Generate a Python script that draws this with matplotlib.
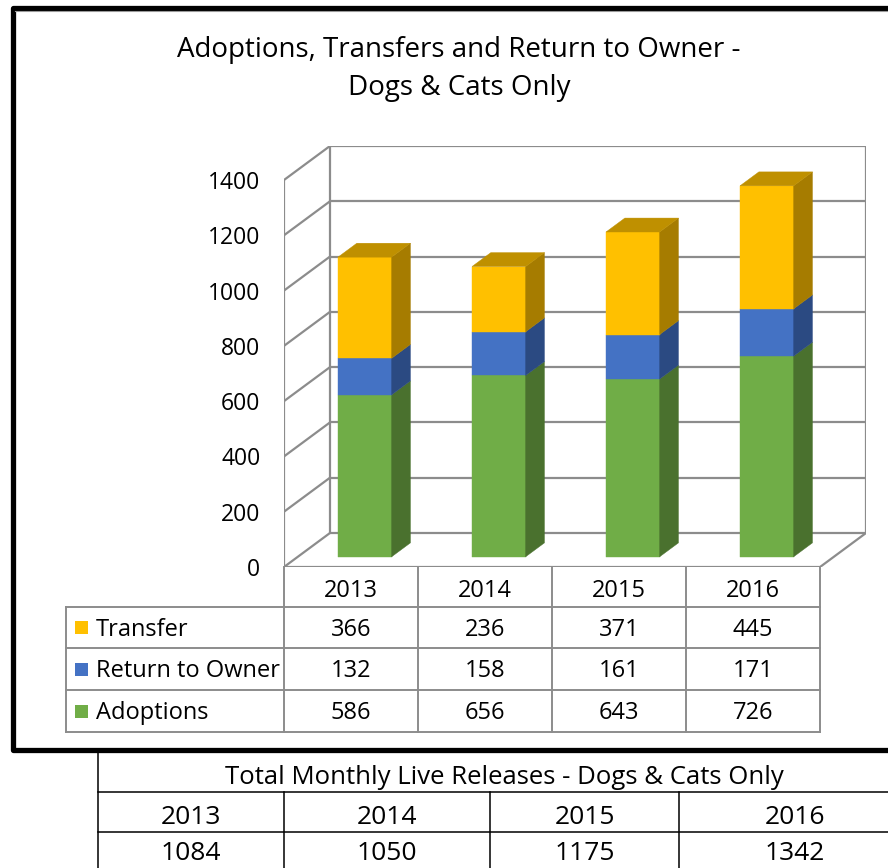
import matplotlib.pyplot as plt
from matplotlib.patches import Polygon, Rectangle

# data
years = ['2013', '2014', '2015', '2016']
transfer = [366, 236, 371, 445]
return_owner = [132, 158, 161, 171]
adoptions = [586, 656, 643, 726]
totals = [1084, 1050, 1175, 1342]
y_ticks = [0, 200, 400, 600, 800, 1000, 1200, 1400]

# stacked bottom -> top: (name, values, front, side, top)
stack = [
    ('Adoptions', adoptions, '#70AD47', '#4A712E', '#5A8C39'),
    ('Return to Owner', return_owner, '#4472C4', '#2B4A82', '#36599B'),
    ('Transfer', transfer, '#FFC000', '#A67C00', '#BF9000'),
]

plt.rcParams['font.family'] = ['Open Sans', 'DejaVu Sans']

W, H = 888, 868
fig = plt.figure(figsize=(W / 100, H / 100), dpi=100)

# layout layer in pixel coordinates (y down)
lay = fig.add_axes([0, 0, 1, 1])
lay.set_xlim(0, W)
lay.set_ylim(H, 0)
lay.axis('off')

# pseudo 3D chart area
DX = 0.343   # depth offset in category units
DY = 123     # depth offset in value units
ymax = y_ticks[-1]
ax = fig.add_axes([284 / W, (H - 567) / H, 582 / W, 421 / H])
ax.set_xlim(0, len(years) + DX)
ax.set_ylim(0, ymax + DY)
ax.patch.set_visible(False)
for s in ax.spines.values():
    s.set_visible(False)
ax.set_xticks([])
ax.set_yticks(y_ticks)
ax.set_yticklabels([str(t) for t in y_ticks], fontsize=16.5)
ax.tick_params(axis='y', length=0, pad=17)


def proj(x, v, d):
    return (x + d * DX, v + d * DY)


grid_kw = dict(color='#8C8C8C', lw=1.6, zorder=1, solid_capstyle='round')
n = len(years)
# back wall
for v in y_ticks:
    p0, p1 = proj(0, v, 1), proj(n, v, 1)
    ax.plot([p0[0], p1[0]], [p0[1], p1[1]], **grid_kw)
    # left wall
    q0, q1 = proj(0, v, 0), proj(0, v, 1)
    ax.plot([q0[0], q1[0]], [q0[1], q1[1]], **grid_kw)
for x in (0, n):
    p0, p1 = proj(x, 0, 1), proj(x, ymax, 1)
    ax.plot([p0[0], p1[0]], [p0[1], p1[1]], **grid_kw)
p0, p1 = proj(0, 0, 0), proj(0, ymax, 0)
ax.plot([p0[0], p1[0]], [p0[1], p1[1]], **grid_kw)
# floor
p0, p1, p2 = proj(0, 0, 0), proj(n, 0, 0), proj(n, 0, 1)
ax.plot([p0[0], p1[0], p2[0]], [p0[1], p1[1], p2[1]], **grid_kw)

# bars
d0, d1 = 0.30, 0.71
for i in range(n):
    x0, x1 = i + 0.3, i + 0.7
    base = 0
    for k, (name, vals, fc, sc, tc) in enumerate(stack):
        top = base + vals[i]
        front = [proj(x0, base, d0), proj(x1, base, d0), proj(x1, top, d0), proj(x0, top, d0)]
        side = [proj(x1, base, d0), proj(x1, base, d1), proj(x1, top, d1), proj(x1, top, d0)]
        ax.add_patch(Polygon(front, closed=True, fc=fc, ec=fc, lw=0.3, zorder=3))
        ax.add_patch(Polygon(side, closed=True, fc=sc, ec=sc, lw=0.3, zorder=3))
        if k == len(stack) - 1:
            lid = [proj(x0, top, d0), proj(x1, top, d0), proj(x1, top, d1), proj(x0, top, d1)]
            ax.add_patch(Polygon(lid, closed=True, fc=tc, ec=tc, lw=0.3, zorder=3))
        base = top

# title
lay.text(459, 69, 'Adoptions, Transfers and Return to Owner -\nDogs & Cats Only',
         ha='center', va='center', fontsize=20, linespacing=1.45)

# data table under the chart
tcol = '#8C8C8C'
cols = [284, 418, 552, 686, 820]
rows = [567, 607, 648, 690, 732]
for x in cols:
    lay.plot([x, x], [rows[0], rows[-1]], color=tcol, lw=1.4)
for y in rows[1:]:
    lay.plot([66, cols[-1]], [y, y], color=tcol, lw=1.4)
lay.plot([66, 66], [rows[1], rows[-1]], color=tcol, lw=1.4)
for j, yr in enumerate(years):
    lay.text((cols[j] + cols[j + 1]) / 2, (rows[0] + rows[1]) / 2 + 4, yr,
             ha='center', va='center', fontsize=17)
for r, (name, vals, fc, sc, tc) in enumerate(stack[::-1]):
    yc = (rows[r + 1] + rows[r + 2]) / 2
    lay.add_patch(Rectangle((75, yc - 6.5), 13, 13, fc=fc, ec='none'))
    lay.text(96, yc + 2, name, ha='left', va='center', fontsize=17)
    for j in range(n):
        lay.text((cols[j] + cols[j + 1]) / 2, yc + 2, str(vals[j]),
                 ha='center', va='center', fontsize=17)

# black frame around the chart
lay.plot([W, 12.5, 12.5, W], [7.5, 7.5, 749.5, 749.5], color='black', lw=3.8,
         solid_joinstyle='round')
lay.plot([15, W], [10.5, 10.5], color='#9A9A9A', lw=0.8)

# totals table
bcols = [98, 284, 490, 679, 911]
lay.plot([98, 98], [752, H], color='black', lw=1.1)
for y in (792, 832):
    lay.plot([98, W], [y, y], color='black', lw=1.1)
for x in bcols[1:4]:
    lay.plot([x, x], [792, H], color='black', lw=1.1)
lay.text((bcols[0] + bcols[-1]) / 2, 777, 'Total Monthly Live Releases - Dogs & Cats Only',
         ha='center', va='center', fontsize=18.5)
for j in range(n):
    xc = (bcols[j] + bcols[j + 1]) / 2
    lay.text(xc, 817, years[j], ha='center', va='center', fontsize=19)
    lay.text(xc, 854, str(totals[j]), ha='center', va='center', fontsize=19)

fig.savefig('out.png', dpi=100)
